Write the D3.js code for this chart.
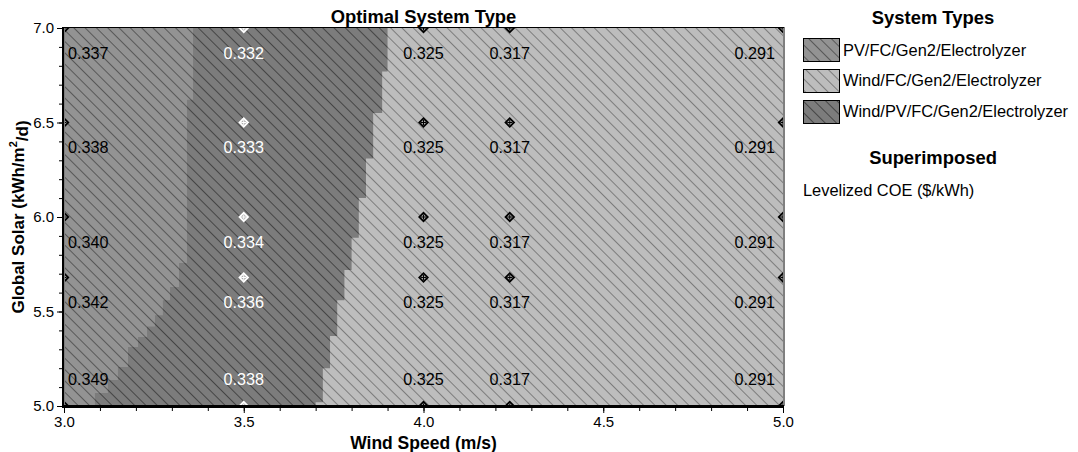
<!DOCTYPE html>
<html lang="en">
<head>
    <meta charset="UTF-8">
    <title>Optimal System Type</title>
    <script src="https://cdnjs.cloudflare.com/ajax/libs/d3/7.8.4/d3.min.js"></script>
    <style>
        body { margin: 0; background: #fff; }
        svg { display: block; font-family: "Liberation Sans", Arial, sans-serif; }
    </style>
</head>
<body>
    <svg width="1078" height="452"></svg>

    <script>
        // sensitivity grid
        const windSpeeds = [3.0, 3.5, 4.0, 4.24, 5.0];
        const solarLevels = [7.0, 6.5, 6.0, 5.68, 5.0];

        // levelized COE ($/kWh), one row per solar level
        const coeRows = [
            [0.337, 0.332, 0.325, 0.317, 0.291],
            [0.338, 0.333, 0.325, 0.317, 0.291],
            [0.340, 0.334, 0.325, 0.317, 0.291],
            [0.342, 0.336, 0.325, 0.317, 0.291],
            [0.349, 0.338, 0.325, 0.317, 0.291]
        ];

        // optimal type at each grid point (index into systemTypes)
        const typeRows = [
            [0, 2, 1, 1, 1],
            [0, 2, 1, 1, 1],
            [0, 2, 1, 1, 1],
            [0, 2, 1, 1, 1],
            [0, 2, 1, 1, 1]
        ];

        const systemTypes = ["PV/FC/Gen2/Electrolyzer", "Wind/FC/Gen2/Electrolyzer", "Wind/PV/FC/Gen2/Electrolyzer"];
        const typeFill = ["#939393", "#bdbdbd", "#7c7c7c"];
        const typeHatch = ["#585858", "#7c7c7c", "#454545"];

        // region edges: [solar at top of band, wind speed of edge]
        const pvEdge = [
            [7.0, 3.359], [6.62, 3.342], [5.757, 3.32], [5.63, 3.295], [5.56, 3.275],
            [5.48, 3.253], [5.42, 3.231], [5.365, 3.206], [5.312, 3.178], [5.206, 3.15],
            [5.138, 3.122], [5.069, 3.086]
        ];
        const windEdge = [
            [7.0, 3.90], [6.77, 3.885], [6.55, 3.86], [6.31, 3.84], [6.10, 3.82],
            [5.89, 3.80], [5.72, 3.78], [5.56, 3.76], [5.37, 3.74], [5.20, 3.72], [5.02, 3.70]
        ];

        const xTicks = [3.0, 3.5, 4.0, 4.5, 5.0];
        const yTicks = [5.0, 5.5, 6.0, 6.5, 7.0];

        const svg = d3.select("svg");
        const pl = 64, pr = 783, pt = 28, pb = 406;

        const x = d3.scaleLinear().domain([3.0, 5.0]).range([pl, pr]);
        const y = d3.scaleLinear().domain([5.0, 7.0]).range([pb, pt]);

        const defs = svg.append("defs");
        typeFill.forEach((c, i) => {
            const p = defs.append("pattern")
                .attr("id", "hatch" + i)
                .attr("patternUnits", "userSpaceOnUse")
                .attr("width", 8).attr("height", 8)
                .attr("patternTransform", "rotate(-45)");
            p.append("rect").attr("width", 8).attr("height", 8).attr("fill", c);
            p.append("line").attr("x1", 0.5).attr("y1", 0).attr("x2", 0.5).attr("y2", 8)
                .attr("stroke", typeHatch[i]).attr("stroke-width", 1);
        });
        defs.append("clipPath").attr("id", "plotClip")
            .append("rect").attr("x", pl).attr("y", pt)
            .attr("width", pr - pl).attr("height", pb - pt);

        function regionPath(edge) {
            const pts = [[3.0, 7.0]];
            edge.forEach((d, i) => {
                const next = i < edge.length - 1 ? edge[i + 1][0] : 5.0;
                pts.push([d[1], d[0]]);
                pts.push([d[1], next]);
            });
            pts.push([3.0, 5.0]);
            return "M" + pts.map(p => x(p[0]) + "," + y(p[1])).join("L") + "Z";
        }

        const plot = svg.append("g").attr("clip-path", "url(#plotClip)");
        plot.append("rect").attr("x", pl).attr("y", pt)
            .attr("width", pr - pl).attr("height", pb - pt)
            .attr("fill", "url(#hatch1)");
        plot.append("path").attr("d", regionPath(windEdge)).attr("fill", "url(#hatch2)");
        plot.append("path").attr("d", regionPath(pvEdge)).attr("fill", "url(#hatch0)");

        // points
        const points = [];
        solarLevels.forEach((s, r) => windSpeeds.forEach((w, c) => {
            points.push({ w, s, coe: coeRows[r][c], type: typeRows[r][c] });
        }));

        const mk = plot.selectAll("g.mk").data(points).enter().append("g")
            .attr("class", "mk")
            .attr("transform", d => `translate(${x(d.w)},${y(d.s)})`);
        const ink = d => d.type === 2 ? "#fff" : "#000";
        mk.append("path").attr("d", "M0,-5.5L5.5,0L0,5.5L-5.5,0Z").attr("fill", ink);
        mk.append("path").attr("d", "M0,-3L3,0L0,3L-3,0Z").attr("fill", "#aaa");
        mk.append("path").attr("d", "M0,-2.5V2.5M-2.5,0H2.5").attr("stroke", ink).attr("stroke-width", 1);

        // white rim just inside the axes
        svg.append("path")
            .attr("d", `M${pl + 0.5},${pt}V${pb - 0.5}H${pr}`)
            .attr("fill", "none").attr("stroke", "#fff").attr("stroke-width", 1);

        svg.append("g").selectAll("text").data(points).enter().append("text")
            .attr("x", d => d.w === 3.0 ? pl + 4 : d.w === 5.0 ? pr - 8 : x(d.w))
            .attr("y", d => Math.min(y(d.s) + 25, pb - 27))
            .attr("dy", "0.35em")
            .attr("text-anchor", d => d.w === 3.0 ? "start" : d.w === 5.0 ? "end" : "middle")
            .attr("font-size", 16.2)
            .attr("fill", ink)
            .text(d => d3.format(".3f")(d.coe));

        // frame and axes
        svg.append("rect").attr("x", pl).attr("y", pt - 0.5)
            .attr("width", pr - pl + 1).attr("height", pb - pt)
            .attr("fill", "none").attr("stroke", "#000").attr("stroke-width", 1);
        svg.append("line").attr("x1", pl - 1).attr("x2", pl - 1).attr("y1", pt - 1).attr("y2", pb + 2)
            .attr("stroke", "#000").attr("stroke-width", 2);
        svg.append("line").attr("x1", pl - 2).attr("x2", pr + 1).attr("y1", pb + 1).attr("y2", pb + 1)
            .attr("stroke", "#000").attr("stroke-width", 2);

        const xAxis = svg.append("g").attr("transform", `translate(0,${pb + 2})`)
            .call(d3.axisBottom(x).tickValues(d3.range(3.0, 5.001, 0.1)).tickSize(3).tickFormat(""));
        xAxis.select(".domain").remove();
        const xMajor = svg.append("g").attr("transform", `translate(0,${pb + 2})`)
            .call(d3.axisBottom(x).tickValues(xTicks).tickSize(5).tickPadding(3).tickFormat(d3.format(".1f")));
        xMajor.select(".domain").remove();
        xMajor.selectAll("text").attr("font-size", 15).attr("font-family", "Liberation Sans, Arial, sans-serif").attr("fill", "#000");

        const yAxis = svg.append("g").attr("transform", `translate(${pl - 2},0)`)
            .call(d3.axisLeft(y).tickValues(d3.range(5.0, 7.001, 0.1)).tickSize(3).tickFormat(""));
        yAxis.select(".domain").remove();
        const yMajor = svg.append("g").attr("transform", `translate(${pl - 2},0)`)
            .call(d3.axisLeft(y).tickValues(yTicks).tickSize(5).tickPadding(3).tickFormat(d3.format(".1f")));
        yMajor.select(".domain").remove();
        yMajor.selectAll("text").attr("font-size", 15).attr("font-family", "Liberation Sans, Arial, sans-serif").attr("fill", "#000");

        // titles
        svg.append("text").attr("x", (pl + pr) / 2).attr("y", 17).attr("dy", "0.35em")
            .attr("text-anchor", "middle").attr("font-size", 18.4).attr("font-weight", "bold")
            .text("Optimal System Type");
        svg.append("text").attr("x", (pl + pr) / 2).attr("y", 443).attr("dy", "0.35em")
            .attr("text-anchor", "middle").attr("font-size", 17.5).attr("font-weight", "bold")
            .text("Wind Speed (m/s)");
        const yt = svg.append("text").attr("transform", `translate(18,${(pt + pb) / 2}) rotate(-90)`)
            .attr("dy", "0.35em").attr("text-anchor", "middle")
            .attr("font-size", 17).attr("font-weight", "bold");
        yt.append("tspan").text("Global Solar (kWh/m");
        yt.append("tspan").attr("font-size", 11).attr("dy", "-0.6em").text("2");
        yt.append("tspan").attr("dy", "0.6em").text("/d)");

        // legend
        const lg = svg.append("g");
        lg.append("text").attr("x", 933).attr("y", 18).attr("dy", "0.35em").attr("text-anchor", "middle")
            .attr("font-size", 18.4).attr("font-weight", "bold").text("System Types");
        systemTypes.forEach((t, i) => {
            lg.append("rect").attr("x", 803.5).attr("y", 38.5 + i * 31).attr("width", 36).attr("height", 23)
                .attr("fill", `url(#hatch${i})`).attr("stroke", "#000");
            lg.append("text").attr("x", 843).attr("y", 50 + i * 30.5).attr("dy", "0.35em")
                .attr("font-size", 16.4).text(t);
        });
        lg.append("text").attr("x", 933).attr("y", 158).attr("dy", "0.35em").attr("text-anchor", "middle")
            .attr("font-size", 18.4).attr("font-weight", "bold").text("Superimposed");
        lg.append("text").attr("x", 803).attr("y", 190).attr("dy", "0.35em")
            .attr("font-size", 16.4).text("Levelized COE ($/kWh)");
    </script>
</body>
</html>
